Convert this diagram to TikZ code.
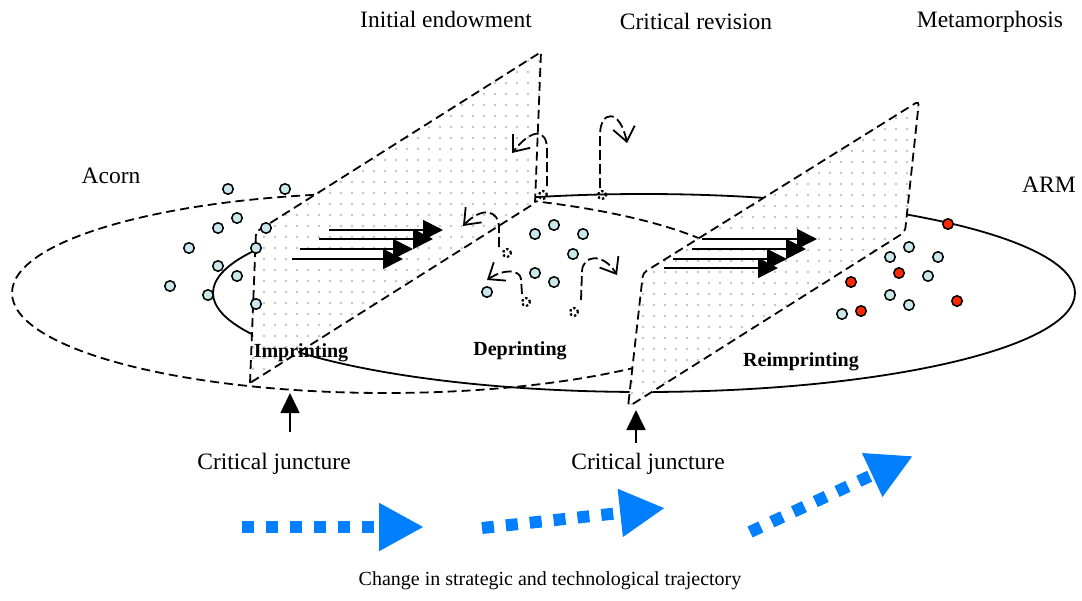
\documentclass[tikz,border=0pt]{standalone}
\usepackage{fontspec}
\setmainfont{Liberation Serif}
\usetikzlibrary{arrows.meta}
\definecolor{dotfill}{RGB}{200,232,236}
\definecolor{reddot}{RGB}{255,40,0}
\definecolor{pdot}{RGB}{195,195,195}
\definecolor{flowblue}{RGB}{0,128,255}
\tikzset{
  lbl/.style={font=\fontsize{23.5}{28}\selectfont, anchor=base, inner sep=0pt},
  blbl/.style={font=\fontsize{20}{24}\selectfont\bfseries, anchor=base, inner sep=0pt},
  caption/.style={font=\fontsize{20}{24}\selectfont, anchor=base, inner sep=0pt},
  planeedge/.style={line width=1.8pt, dash pattern=on 9pt off 5pt},
  cdot/.style={circle, draw, line width=1.5pt, fill=dotfill, minimum size=10.5pt, inner sep=0pt},
  rdot/.style={cdot, fill=reddot},
  ghost/.style={circle, draw, line width=2.2pt, dash pattern=on 2.4pt off 2.2pt, minimum size=8pt, inner sep=0pt},
  curl/.style={line width=1.8pt, dash pattern=on 10pt off 4pt, -{Straight Barb[length=14pt,width=22pt]}},
  pusharrow/.style={line width=1.7pt, -{Triangle[length=20pt,width=20pt]}},
  uparrow/.style={line width=1.7pt, -{Triangle[length=20pt,width=19pt]}},
  bluearrow/.style={line width=12pt, draw=flowblue, dash pattern=on 12pt off 12pt, -{Triangle[length=45pt,width=45pt]}, color=flowblue},
}
\begin{document}
\begin{tikzpicture}[x=1pt,y=-1pt]
\path[use as bounding box] (0,0) rectangle (1082,600);

% ellipses
\draw[planeedge] (386,293) ellipse [x radius=374pt, y radius=100pt];
\draw[line width=1.8pt] (644,293) ellipse [x radius=431pt, y radius=99pt];

% plane 1
\coordinate (p1a) at (250,383);
\coordinate (p1b) at (256,232);
\coordinate (p1c) at (541,52);
\coordinate (p1d) at (535,203);
\begin{scope}
  \clip (p1a) -- (p1b) -- (p1c) -- (p1d) -- cycle;
  \fill[white] (240,40) rectangle (550,395);
  \foreach \i in {0,...,27}{
    \foreach \j in {0,...,31}{
      \fill[pdot] (253+11*\i,50+11*\j) circle[radius=1.3pt];
    }
  }
\end{scope}
\draw[planeedge] (p1a) -- (p1b) -- (p1c) -- (p1d) -- cycle;

% plane 2
\coordinate (p2a) at (628,407);
\coordinate (p2b) at (643,273);
\coordinate (p2c) at (919,101);
\coordinate (p2d) at (905,232);
\begin{scope}
  \clip[rounded corners=4pt] (p2a) -- (p2b) -- (p2c) -- (p2d) -- cycle;
  \fill[white] (620,90) rectangle (925,415);
  \foreach \i in {0,...,27}{
    \foreach \j in {0,...,29}{
      \fill[pdot] (632+11*\i,96+11*\j) circle[radius=1.3pt];
    }
  }
\end{scope}
\draw[planeedge, rounded corners=4pt] (p2a) -- (p2b) -- (p2c) -- (p2d) -- cycle;

% push arrows in plane 1
\coordinate (a1s) at (329,230); \coordinate (a1e) at (443,230);
\coordinate (a2s) at (319,239); \coordinate (a2e) at (433,239);
\coordinate (a3s) at (300,249); \coordinate (a3e) at (413,249);
\coordinate (a4s) at (292,259); \coordinate (a4e) at (403,259);
\draw[pusharrow] (a1s) -- (a1e);
\draw[pusharrow] (a2s) -- (a2e);
\draw[pusharrow] (a3s) -- (a3e);
\draw[pusharrow] (a4s) -- (a4e);

% push arrows in plane 2
\coordinate (b1s) at (702,239); \coordinate (b1e) at (817,239);
\coordinate (b2s) at (692,249); \coordinate (b2e) at (806,249);
\coordinate (b3s) at (673,259); \coordinate (b3e) at (787,259);
\coordinate (b4s) at (664,268); \coordinate (b4e) at (778,268);
\draw[pusharrow] (b1s) -- (b1e);
\draw[pusharrow] (b2s) -- (b2e);
\draw[pusharrow] (b3s) -- (b3e);
\draw[pusharrow] (b4s) -- (b4e);

% dots
\foreach \p [count=\k] in {(228,189),(285,189),(237,218),(218,228),(266,228),(189,248),(256,248),(218,266),(237,276),(170,286),(208,295),(256,304)}
  \node[cdot] (l\k) at \p {};
\foreach \p [count=\k] in {(554,225),(535,234),(583,234),(573,254),(535,273),(554,282),(487,292)}
  \node[cdot] (m\k) at \p {};
\foreach \p [count=\k] in {(909,247),(890,257),(938,257),(928,276),(890,295),(909,305),(842,314)}
  \node[cdot] (r\k) at \p {};
\foreach \p [count=\k] in {(948,224),(899,273),(851,282),(957,301),(861,311)}
  \node[rdot] (q\k) at \p {};

% ghost dots and curling arrows
\node[ghost] (g1) at (543,195) {};
\node[ghost] (g2) at (602,195) {};
\node[ghost] (g3) at (507,253) {};
\node[ghost] (g4) at (526,302) {};
\node[ghost] (g5) at (574,312) {};
\coordinate (c1) at (512,153);
\coordinate (c2) at (627,143);
\coordinate (c3) at (463,226);
\coordinate (c4) at (487,280);
\coordinate (c5) at (617,275);
\draw[curl] ([shift={(4,-9)}]g1.center) -- (547,150) .. controls (547,128) and (532,128) .. (c1);
\draw[curl] ([shift={(-2,-7)}]g2.center) -- (600,135) .. controls (600,110) and (620,108) .. (c2);
\draw[curl] ([shift={(-8,-6)}]g3.center) -- (499,228) .. controls (499,210) and (482,206) .. (c3);
\draw[curl] ([shift={(-4,-8)}]g4.center) -- (521,279) .. controls (520,270) and (505,268) .. (c4);
\draw[curl] ([shift={(7,-12)}]g5.center) -- (582,272) .. controls (582,255) and (603,252) .. (c5);

% labels
\node[lbl] (tinit) at (446,27) {Initial endowment};
\node[lbl] (tcrit) at (696,29) {Critical revision};
\node[lbl] (tmeta) at (990,27) {Metamorphosis};
\node[lbl] (tacorn) at (111,183) {Acorn};
\node[lbl] (tarm) at (1049,192) {ARM};
\node[blbl] (timp) at (301,357) {Imprinting};
\node[blbl] (tdep) at (520,355) {Deprinting};
\node[blbl] (treimp) at (801,366) {Reimprinting};
\node[lbl] (cj1) at (274,469) {Critical juncture};
\node[lbl] (cj2) at (648,469) {Critical juncture};
\node[caption] (tchg) at (550,585) {Change in strategic and technological trajectory};

% juncture arrows
\coordinate (u1s) at (290,432); \coordinate (u1e) at (290,393);
\coordinate (u2s) at (636,443); \coordinate (u2e) at (636,410);
\draw[uparrow] (u1s) -- (u1e);
\draw[uparrow] (u2s) -- (u2e);

% blue trajectory arrows
\coordinate (f1s) at (242,527); \coordinate (f1e) at (424,527);
\coordinate (f2s) at (482,528); \coordinate (f2e) at (665,508);
\coordinate (f3s) at (750,532); \coordinate (f3e) at (913,456);
\draw[bluearrow] (f1s) -- (f1e);
\draw[bluearrow] (f2s) -- (f2e);
\draw[bluearrow] (f3s) -- (f3e);
\end{tikzpicture}
\end{document}
